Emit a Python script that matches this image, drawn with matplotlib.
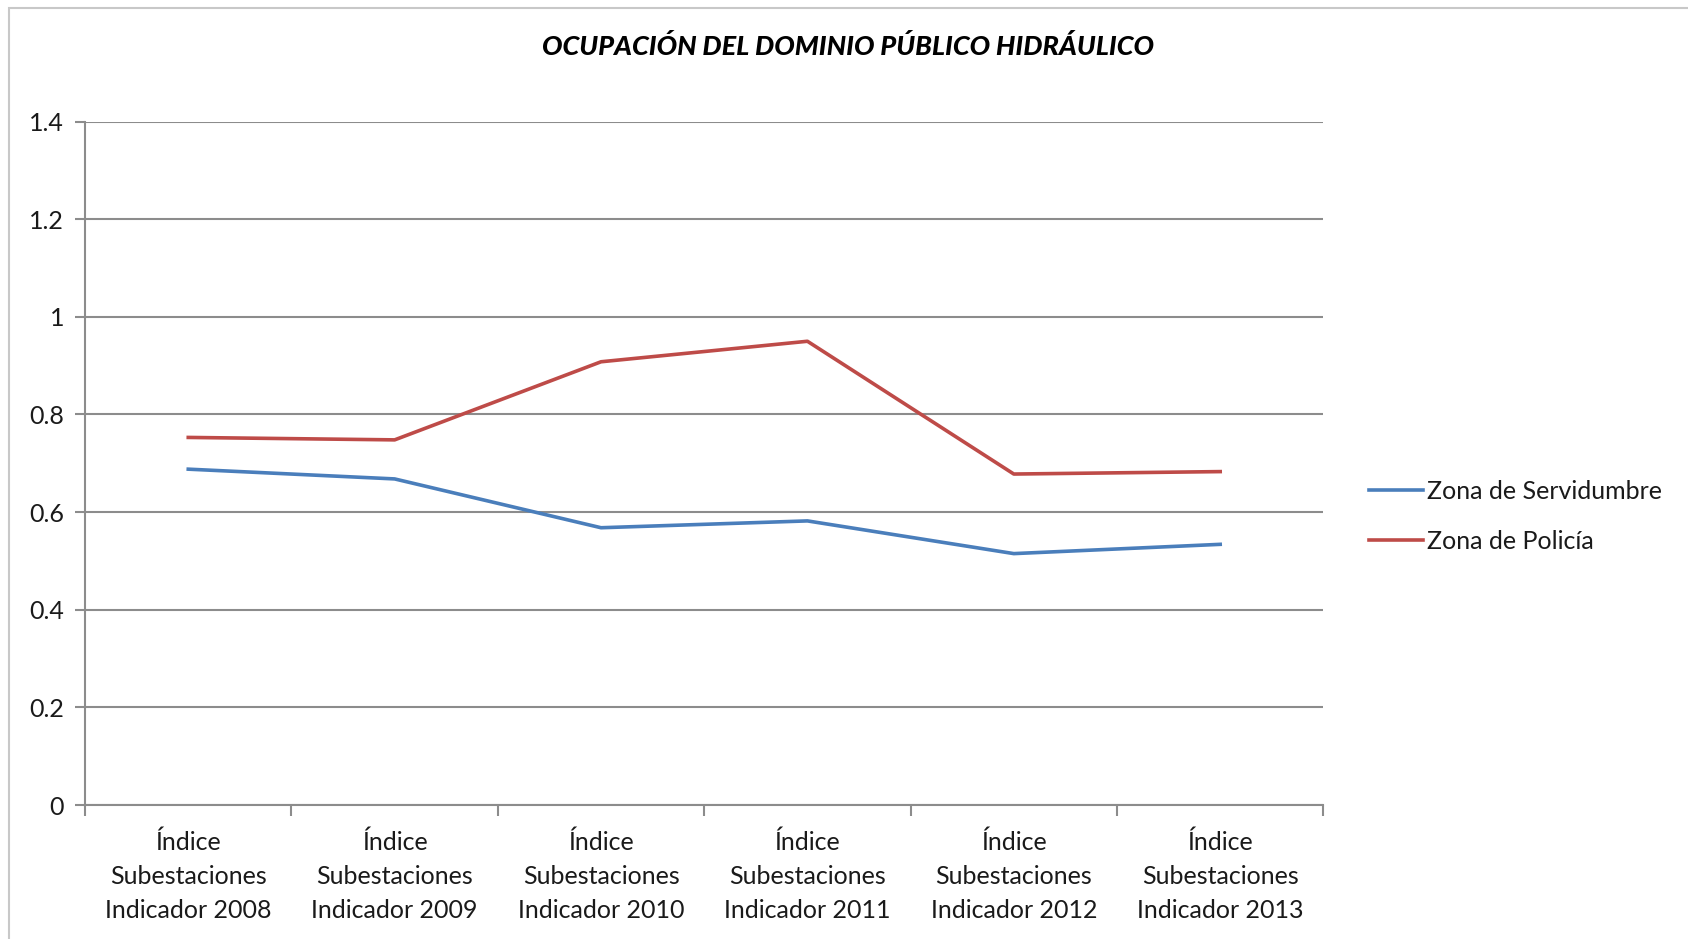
import matplotlib
matplotlib.use("Agg")
import matplotlib.pyplot as plt
from matplotlib.patches import Rectangle

# values
categories = ["Índice\nSubestaciones\nIndicador 2008",
              "Índice\nSubestaciones\nIndicador 2009",
              "Índice\nSubestaciones\nIndicador 2010",
              "Índice\nSubestaciones\nIndicador 2011",
              "Índice\nSubestaciones\nIndicador 2012",
              "Índice\nSubestaciones\nIndicador 2013"]
servidumbre = [0.688, 0.668, 0.568, 0.582, 0.515, 0.534]
policia = [0.753, 0.748, 0.908, 0.950, 0.678, 0.683]
yticks = [0, 0.2, 0.4, 0.6, 0.8, 1.0, 1.2, 1.4]
ytick_labels = ["0", "0.2", "0.4", "0.6", "0.8", "1", "1.2", "1.4"]

plt.rcParams["font.family"] = ["Lato", "DejaVu Sans"]
text_color = "#1a1a1a"
grid_color = "#8c8c8c"

fig = plt.figure(figsize=(16.88, 9.39), dpi=100)
ax = fig.add_axes([0.0504, 0.1427, 0.7336, 0.7278])

# thin frame of the original chart area (cut at right and bottom)
fig.patches.append(Rectangle((9 / 1688, -0.05), 1.2, 1 - 8 / 939 + 0.05,
                             transform=fig.transFigure, fill=False,
                             edgecolor="#c8c8c8", linewidth=1.5))

x = list(range(len(categories)))
ax.plot(x, servidumbre, color="#4a7ebb", linewidth=2.6, label="Zona de Servidumbre")
ax.plot(x, policia, color="#be4b48", linewidth=2.6, label="Zona de Policía")

ax.set_xlim(-0.5, len(categories) - 0.5)
ax.set_ylim(0, 1.4)
ax.set_yticks(yticks)
ax.set_yticklabels(ytick_labels, fontsize=18, color=text_color)
ax.yaxis.grid(True, color=grid_color, linewidth=1.5)
ax.set_axisbelow(True)

# category labels centered, ticks on category boundaries
ax.set_xticks(x)
ax.set_xticklabels(categories, fontsize=18, color=text_color, linespacing=1.6)
ax.tick_params(axis="x", which="major", length=0, pad=18)
ax.set_xticks([i - 0.5 for i in range(len(categories) + 1)], minor=True)
ax.tick_params(axis="x", which="minor", length=8, width=1.5, color=grid_color)
ax.tick_params(axis="y", length=7, width=1.5, color=grid_color, pad=8)

for side in ["top", "right"]:
    ax.spines[side].set_visible(False)
for side in ["left", "bottom"]:
    ax.spines[side].set_color(grid_color)
    ax.spines[side].set_linewidth(1.5)

fig.text(0.5025, 0.951, "OCUPACIÓN DEL DOMINIO PÚBLICO HIDRÁULICO",
         ha="center", va="center", fontsize=19.5, fontweight="black",
         fontstyle="italic", color="#000000")

leg = ax.legend(loc="center left", bbox_to_anchor=(1.019, 0.422), frameon=False,
                fontsize=18, handlelength=2.15, handletextpad=0.15,
                labelspacing=1.08, labelcolor=text_color)

fig.savefig("out.png", dpi=100, facecolor="white")
